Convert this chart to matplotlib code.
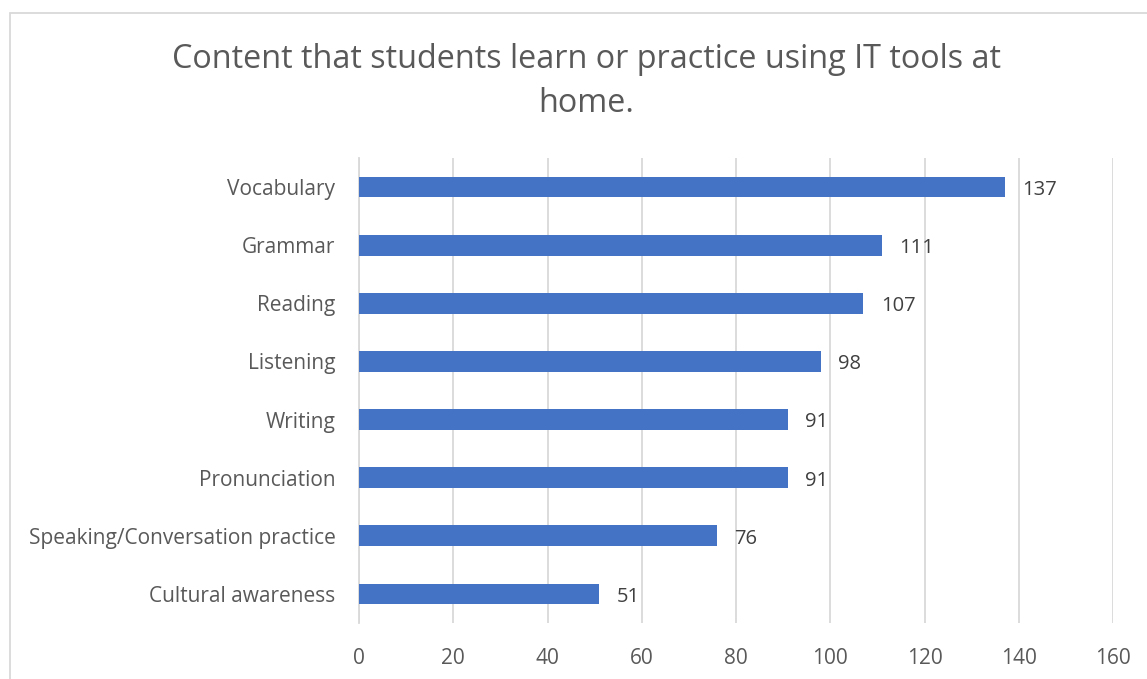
import matplotlib
matplotlib.use("Agg")
import matplotlib.pyplot as plt
from matplotlib.patches import Rectangle

categories = [
    "Vocabulary",
    "Grammar",
    "Reading",
    "Listening",
    "Writing",
    "Pronunciation",
    "Speaking/Conversation practice",
    "Cultural awareness",
]
counts = [137, 111, 107, 98, 91, 91, 76, 51]
x_ticks = [0, 20, 40, 60, 80, 100, 120, 140, 160]

TEXT = "#595959"
BAR = "#4472C4"
GRID = "#D9D9D9"

plt.rcParams["font.family"] = ["Open Sans", "DejaVu Sans"]

W, H = 1147, 679
fig = plt.figure(figsize=(W / 100, H / 100), dpi=100)

# chart frame (top and left edges visible)
fig.add_artist(Rectangle((10 / W, -0.1), 1.2, (H - 13) / H + 0.1, transform=fig.transFigure,
                         fill=False, edgecolor=GRID, linewidth=1.3))

left, right, top, bottom = 359, 1113, 158, 623
ax = fig.add_axes([left / W, 1 - bottom / H, (right - left) / W, (bottom - top) / H])

y = list(range(len(categories)))
ax.barh(y, counts, height=0.355, color=BAR, zorder=3)
ax.set_ylim(len(categories) - 0.5, -0.5)
ax.set_xlim(0, 160)
ax.set_xticks(x_ticks)
ax.set_yticks(y)
ax.set_yticklabels(categories)

# value labels just right of each bar
for yi, v in zip(y, counts):
    ax.text(v + 3.7, yi + 0.05, f"{v}", va="center", ha="left", fontsize=14.5,
            color="#404040", zorder=4)

ax.grid(axis="x", color=GRID, linewidth=1.3, zorder=0)
ax.set_axisbelow(True)
for s in ["top", "right", "bottom"]:
    ax.spines[s].set_visible(False)
ax.spines["left"].set_color(GRID)
ax.spines["left"].set_linewidth(1.3)
ax.tick_params(axis="both", length=0, labelcolor=TEXT, labelsize=15)
ax.tick_params(axis="x", pad=18)
ax.tick_params(axis="y", pad=17)

fig.text(586 / W, 1 - 60 / H, "Content that students learn or practice using IT tools at",
         ha="center", va="center", fontsize=23.3, color=TEXT)
fig.text(586 / W, 1 - 104 / H, "home.", ha="center", va="center", fontsize=23.3, color=TEXT)

fig.savefig("out.png", dpi=100, facecolor="white")
